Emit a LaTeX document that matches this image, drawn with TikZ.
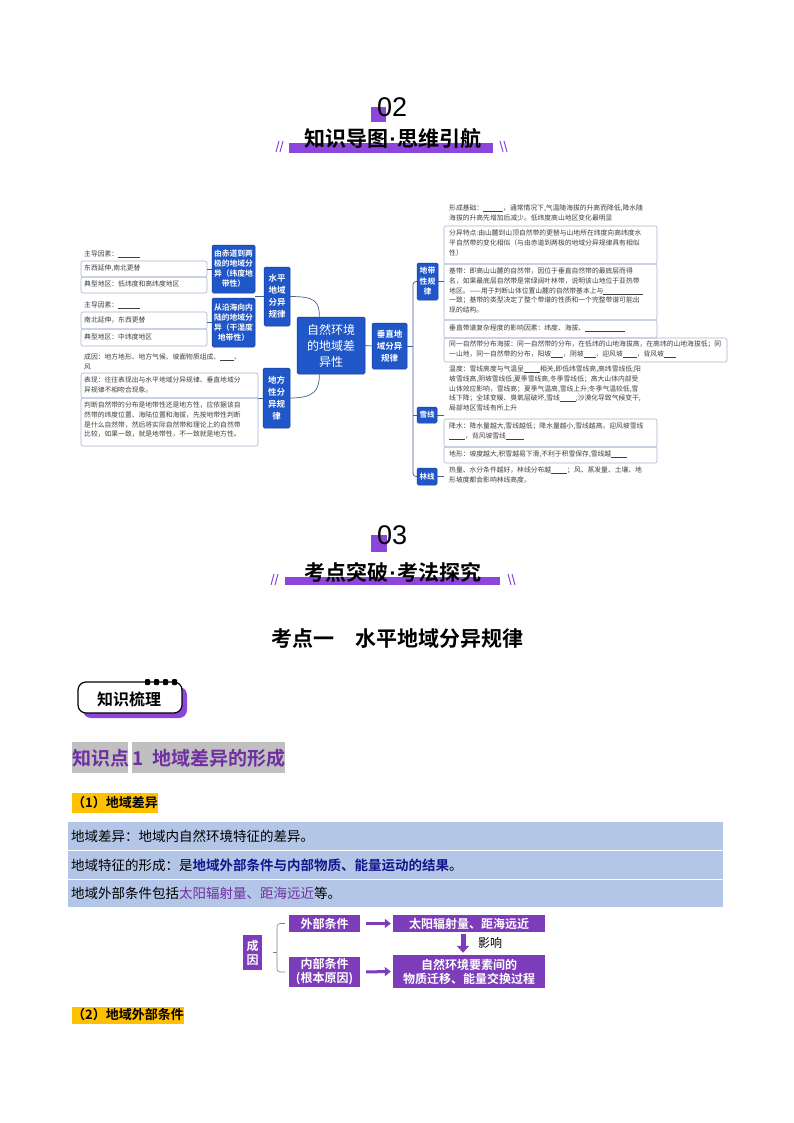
\documentclass[tikz,border=0pt]{standalone}
\usepackage{fontspec}
\setmainfont{Noto Sans CJK SC}[BoldFont={Noto Sans CJK SC Bold}]
\newfontfamily\numfont{Liberation Sans}
\usetikzlibrary{positioning,arrows.meta}

\definecolor{mapblue}{RGB}{31,86,200}
\definecolor{mapedge}{RGB}{20,58,150}
\definecolor{linkc}{RGB}{70,95,140}
\definecolor{boxc}{RGB}{165,180,210}
\definecolor{itemc}{RGB}{64,64,64}
\definecolor{hdpurple}{RGB}{140,70,220}
\definecolor{kppurple}{RGB}{112,48,160}
\definecolor{kpgray}{RGB}{192,192,192}
\definecolor{tagyellow}{RGB}{255,192,0}
\definecolor{bandblue}{RGB}{180,198,231}
\definecolor{navy}{RGB}{20,20,140}
\definecolor{flowpurple}{RGB}{125,60,185}

\newcommand\blank[1]{\rule[-0.8pt]{#1}{0.4pt}}
\newcommand\mdot{{\numfont\bfseries\kern1pt·\kern1pt}}

\tikzset{
  mapnode/.style={fill=mapblue, draw=mapedge, line width=0.5pt, rounded corners=1.5pt,
    text=white, align=center, inner sep=0pt, font=\bfseries\fontsize{8.5}{12}\selectfont},
  item/.style={anchor=north west, align=left, inner sep=0pt, text=itemc,
    font=\fontsize{6.8}{9.6}\selectfont},
  itembox/.style={draw=boxc, line width=0.6pt, rounded corners=2pt},
  link/.style={draw=linkc, line width=0.7pt},
  flowbox/.style={fill=flowpurple, text=white, align=center, inner sep=0pt,
    font=\bfseries\fontsize{12}{14}\selectfont},
  flowarrow/.style={draw=flowpurple, line width=3pt, -{Triangle[length=6pt,width=9pt]}},
  hdtitle/.style={inner sep=0pt, font=\bfseries\fontsize{21}{24}\selectfont},
  hdnum/.style={inner sep=0pt, font=\numfont\fontsize{27}{30}\selectfont},
  slash/.style={draw=hdpurple, line width=1pt},
  tagbox/.style={fill=tagyellow, inner sep=0pt, font=\bfseries\fontsize{13}{15}\selectfont},
}

\begin{document}
\begin{tikzpicture}[x=1pt,y=-1pt]
\fill[white] (0,0) rectangle (794,1123);
\useasboundingbox (0,0) rectangle (794,1123);

% header 02
\fill[hdpurple] (371,107) rectangle (386,122);
\node[hdnum, anchor=north west] (num02) at (377,97) {02};
\fill[hdpurple] (289,143) rectangle (493,153);
\node[hdtitle] (title02) at (393,139) {知识导图\mdot 思维引航};
\draw[slash] (276,152) -- (279,141) (280,152) -- (283,141);
\draw[slash] (500,141) -- (503,152) (504,141) -- (507,152);

% mind map nodes
\node[mapnode, minimum width=68, minimum height=57, font=\fontsize{12}{16}\selectfont]
  (center) at (331,345.5) {自然环境\\的地域差\\异性};
\node[mapnode, minimum width=26, minimum height=59] (shuiping) at (277,296.5) {水平\\地域\\分异\\规律};
\node[mapnode, minimum width=27, minimum height=60] (difang) at (276.5,398) {地方\\性分\\异规\\律};
\node[mapnode, minimum width=35, minimum height=46] (chuizhi) at (389.5,346) {垂直地\\域分异\\规律};
\node[mapnode, minimum width=43, minimum height=48, font=\bfseries\fontsize{7.8}{10}\selectfont]
  (subA) at (233.5,269) {由赤道到两\\极的地域分\\异（纬度地\\带性）};
\node[mapnode, minimum width=43, minimum height=49, font=\bfseries\fontsize{7.8}{10}\selectfont]
  (subB) at (233.5,322.5) {从沿海向内\\陆的地域分\\异（干湿度\\地带性）};
\node[mapnode, minimum width=21, minimum height=37, font=\bfseries\fontsize{7.8}{10.5}\selectfont]
  (zonal) at (427.5,281.5) {地带\\性规\\律};
\node[mapnode, minimum width=20, minimum height=16, font=\bfseries\fontsize{7.5}{9}\selectfont]
  (snow) at (427,415) {雪线};
\node[mapnode, minimum width=20, minimum height=17, font=\bfseries\fontsize{7.5}{9}\selectfont]
  (tree) at (427,476.5) {林线};

% main links
\draw[link] (shuiping.east) .. controls +(24,0) and +(0,-16) .. (center.112);
\draw[link] (difang.east) .. controls +(24,0) and +(0,16) .. (center.248);
\draw[link] (center.east) -- (chuizhi.west);
\coordinate (trunk) at (413,346);
\draw[link] (chuizhi.east) -- (trunk);
\draw[link, rounded corners=3pt] (zonal.west) -| (trunk) |- (tree.west);
\draw[link] (snow.west) -- (snow.west -| trunk);
\draw[link] (shuiping.west) -- (subA.south east |- shuiping.west);

% left items: latitudinal
\draw[itembox] (81,261) rectangle (207,277);
\draw[itembox] (81,277) rectangle (207,293);
\node[item] (a1) at (84,251) {主导因素：\blank{22pt}};
\node[item] (a2) at (84,265) {东西延伸,南北更替};
\node[item] (a3) at (84,281) {典型地区：低纬度和高纬度地区};
\draw[link] (subA.west) -- (subA.west -| 207,0);

% left items: dry-wet
\draw[itembox] (81,312) rectangle (207,329);
\draw[itembox] (81,329) rectangle (207,346);
\node[item] (b1) at (84,302) {主导因素：\blank{22pt}};
\node[item] (b2) at (84,317) {南北延伸，东西更替};
\node[item] (b3) at (84,334) {典型地区：中纬度地区};
\draw[link] (subB.west) -- (subB.west -| 207,0);

% left items: azonal
\draw[itembox] (81,373) rectangle (258,398);
\draw[itembox] (81,398) rectangle (258,446);
\node[item] (c1) at (84,354) {成因：地方地形、地方气候、坡面物质组成、\blank{14pt}、\\风};
\node[item] (c2) at (84,377) {表现：往往表现出与水平地域分异规律、垂直地域分\\异规律不相吻合现象。};
\node[item] (c3) at (84,402) {判断自然带的分布是地带性还是地方性，应依据该自\\然带的纬度位置、海陆位置和海拔，先按地带性判断\\是什么自然带，然后将实际自然带和理论上的自然带\\比较，如果一致，就是地带性，不一致就是地方性。};
\draw[link] (difang.west) -- (difang.west -| 258,0);

% right items: zonal
\draw[itembox] (444,226) rectangle (657,264);
\draw[itembox] (444,264) rectangle (657,320);
\draw[itembox] (444,320) rectangle (657,338);
\draw[itembox] (444,338) rectangle (727,362);
\node[item] (r1) at (449,205) {形成基础：\blank{20pt}，通常情况下,气温随海拔的升高而降低,降水随\\海拔的升高先增加后减少。低纬度高山地区变化最明显};
\node[item] (r2) at (449,230) {分异特点:由山麓到山顶自然带的更替与山地所在纬度向高纬度水\\平自然带的变化相似（与由赤道到两极的地域分异规律具有相似\\性）};
\node[item] (r3) at (449,268) {基带：即高山山麓的自然带，因位于垂直自然带的最底层而得\\名，如果最底层自然带是常绿阔叶林带，说明该山地位于亚热带\\地区。——用于判断山体位置山麓的自然带基本上与\blank{40pt}\\一致；基带的类型决定了整个带谱的性质和一个完整带谱可能出\\现的结构。};
\node[item] (r4) at (449,325) {垂直带谱复杂程度的影响因素：纬度、海拔、\blank{40pt}};
\node[item] (r5) at (449,341) {同一自然带分布海拔：同一自然带的分布，在低纬的山地海拔高，在高纬的山地海拔低；同\\一山地，同一自然带的分布，阳坡\blank{12pt}，阴坡\blank{12pt}，迎风坡\blank{14pt}，背风坡\blank{12pt}};
\draw[link] (zonal.east) -- (zonal.east -| 444,0);

% right items: snow line
\draw[itembox] (444,419) rectangle (657,447);
\draw[itembox] (444,447) rectangle (657,463);
\node[item] (r6) at (449,366) {温度：雪线高度与气温呈\blank{16pt}相关,即低纬雪线高,高纬雪线低;阳\\坡雪线高,阴坡雪线低;夏季雪线高,冬季雪线低；高大山体内部受\\山体效应影响，雪线高；夏季气温高,雪线上升;冬季气温较低,雪\\线下降；全球变暖、臭氧层破坏,雪线\blank{16pt};沙漠化导致气候变干,\\局部地区雪线有所上升};
\node[item] (r7) at (449,423) {降水：降水量越大,雪线越低；降水量越小,雪线越高。迎风坡雪线\\\blank{16pt}，背风坡雪线\blank{18pt}};
\node[item] (r8) at (449,451) {地形：坡度越大,积雪越易下滑,不利于积雪保存,雪线越\blank{16pt}};
\draw[link] (snow.east) -- (snow.east -| 444,0);

% right items: tree line
\node[item] (r9) at (449,467) {热量、水分条件越好，林线分布越\blank{16pt}；风、蒸发量、土壤、地\\形坡度都会影响林线高度。};
\draw[link] (tree.east) -- (tree.east -| 444,0);

% header 03
\fill[hdpurple] (371,535) rectangle (387,552);
\node[hdnum, anchor=north west] (num03) at (377,525) {03};
\fill[hdpurple] (285,577) rectangle (500,585);
\node[hdtitle] (title03) at (393,572) {考点突破\mdot 考法探究};
\draw[slash] (271,585) -- (274,574) (275,585) -- (278,574);
\draw[slash] (508,574) -- (511,585) (512,574) -- (515,585);

\node[inner sep=0pt, font=\bfseries\fontsize{21}{24}\selectfont] (topic) at (397,639) {考点一　水平地域分异规律};

% knowledge badge
\fill[hdpurple, rounded corners=8pt] (83,687) rectangle (187,718);
\filldraw[fill=white, draw=black, line width=1.2pt, rounded corners=8pt] (78,682) rectangle (182,713);
\foreach \i in {0,1,2,3}
  \fill[black, rounded corners=1pt] (145+\i*9,679) rectangle (150+\i*9,685);
\node[inner sep=0pt, font=\bfseries\fontsize{16}{18}\selectfont] (badge) at (129,699) {知识梳理};

% knowledge point
\fill[kpgray] (72,742) rectangle (128,773);
\fill[kpgray] (132,742) rectangle (285,773);
\node[inner sep=0pt, anchor=west, text=kppurple, font=\bfseries\fontsize{19}{22}\selectfont] (kp) at (72,758) {知识点\,1\ \ 地域差异的形成};

% (1)
\node[tagbox, minimum height=20pt, anchor=west] (tag1) at (72,803) {（1）地域差异};
\fill[bandblue] (68,822) rectangle (723,907);
\draw[white, line width=1pt] (68,850.5) -- (723,850.5) (68,879) -- (723,879);
\node[inner sep=0pt, anchor=west, font=\fontsize{13.5}{16}\selectfont] (row1) at (71,836) {地域差异：地域内自然环境特征的差异。};
\node[inner sep=0pt, anchor=west, font=\fontsize{13.5}{16}\selectfont] (row2) at (71,865) {地域特征的形成：是{\color{navy}\bfseries 地域外部条件与内部物质、能量运动的结果}。};
\node[inner sep=0pt, anchor=west, font=\fontsize{13.5}{16}\selectfont] (row3) at (71,893) {地域外部条件包括{\color{kppurple}太阳辐射量、距海远近}等。};

% flow chart
\node[flowbox, minimum width=19, minimum height=35] (cause) at (252.5,952.5) {成\\因};
\node[flowbox, minimum width=71, minimum height=17] (outer) at (324.5,923.5) {外部条件};
\node[flowbox, minimum width=152, minimum height=17] (outerres) at (469,923.5) {太阳辐射量、距海远近};
\node[flowbox, minimum width=71, minimum height=30] (inner) at (324.5,972) {内部条件\\(根本原因)};
\node[flowbox, minimum width=152, minimum height=33] (innerres) at (469,971.5) {自然环境要素间的\\物质迁移、能量交换过程};
\draw[flowarrow, shorten <=6pt, shorten >=2pt] (outer.east) -- (outerres.west);
\draw[flowarrow, shorten <=6pt, shorten >=2pt] (inner.east) -- (innerres.west);
\draw[draw=flowpurple, line width=5pt, -{Triangle[length=7pt,width=12pt]}, shorten <=2pt, shorten >=2pt]
  ([xshift=-6pt]outerres.south) -- ([xshift=-6pt]innerres.north);
\node[inner sep=0pt, font=\fontsize{12}{14}\selectfont] (effect) at (490,943) {影响};
\coordinate (brk) at (277,948);
\draw[draw=gray, line width=0.6pt, rounded corners=3pt, shorten <=4pt, shorten >=4pt]
  (outer.west) -| (brk) |- (inner.west);
\draw[draw=gray, line width=0.6pt, shorten <=11pt] (cause.east) -- (cause.east -| brk);

% (2)
\node[tagbox, minimum height=17pt, anchor=west] (tag2) at (72,1015) {（2）地域外部条件};
\end{tikzpicture}
\end{document}
